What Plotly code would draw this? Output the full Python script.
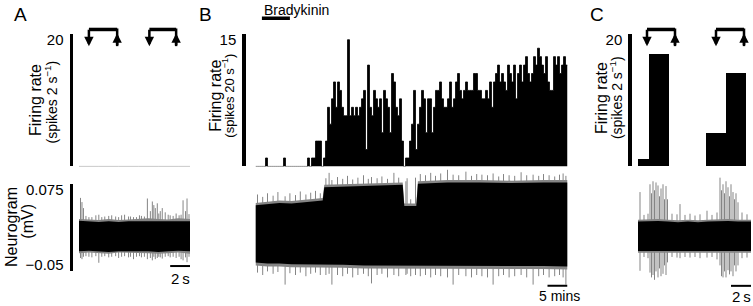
import plotly.graph_objects as go

W, H = 753, 306
FONT = "Liberation Sans, Arial, sans-serif"

# ---------------- data ----------------
# Panel A : firing rate (spikes per 2 s) - silent unit
A_rate_edges = [0, 2, 4, 6, 8, 10, 11.2]
A_rate = [0, 0, 0, 0, 0, 0]
A_stim_on = [1.0, 7.1]
A_stim_off = [3.85, 9.8]
A_len_s = 11.2

# Panel A neurogram (mV): black core envelope + grey edge
A_env_t = [0, 1, 2, 3, 4, 5, 6, 7, 8, 9, 10, 11.2]
A_core_hi = [0.024, 0.023, 0.022, 0.023, 0.022, 0.023, 0.023, 0.024, 0.023, 0.023, 0.024, 0.023]
A_core_lo = [-0.027, -0.026, -0.027, -0.028, -0.027, -0.026, -0.027, -0.027, -0.028, -0.027, -0.026, -0.027]
A_edge_hi = [0.027, 0.026, 0.025, 0.027, 0.025, 0.026, 0.027, 0.028, 0.027, 0.026, 0.028, 0.027]
A_edge_lo = [-0.030, -0.029, -0.030, -0.031, -0.029, -0.029, -0.030, -0.030, -0.031, -0.030, -0.029, -0.031]
A_spk_t = [0.15, 0.3, 0.45, 0.7, 1.0, 1.3, 1.7, 2.0, 2.3, 2.6,
           3.0, 3.3, 3.7, 4.0, 4.3, 4.6, 5.0, 5.2, 5.5, 5.8,
           6.1, 6.3, 6.6, 6.9, 7.2, 7.4, 7.55, 7.7, 7.9, 8.05,
           8.2, 8.4, 8.7, 9.0, 9.2, 9.5, 9.8, 10.1, 10.3, 10.5,
           10.75, 10.9, 11.1]
A_spk_hi = [0.062, 0.055, 0.045, 0.032, 0.030, 0.030, 0.033, 0.034, 0.030, 0.031,
            0.032, 0.033, 0.031, 0.030, 0.033, 0.034, 0.031, 0.031, 0.030, 0.030,
            0.033, 0.032, 0.031, 0.061, 0.040, 0.056, 0.050, 0.045, 0.053, 0.036,
            0.040, 0.045, 0.038, 0.034, 0.033, 0.032, 0.036, 0.033, 0.034, 0.058,
            0.040, 0.061, 0.035]
A_spk_lo = [-0.038, -0.040, -0.036, -0.035, -0.036, -0.037, -0.035, -0.046, -0.036, -0.035,
            -0.037, -0.036, -0.035, -0.038, -0.036, -0.035, -0.037, -0.036, -0.040, -0.036,
            -0.035, -0.037, -0.036, -0.040, -0.038, -0.042, -0.036, -0.040, -0.038, -0.036,
            -0.037, -0.039, -0.036, -0.035, -0.037, -0.036, -0.038, -0.036, -0.040, -0.042,
            -0.037, -0.045, -0.036]

# Panel B : firing rate histogram (0.5-min bins), minutes
B_bin_min = 0.5
B_rate = [0, 0, 0, 0, 0, 1, 0, 0, 0, 0,
          0, 0, 0, 0, 1, 0, 0, 0, 0, 0,
          0, 0, 0, 0, 0, 0, 1, 0, 1, 1,
          3, 3, 3, 0, 1, 3, 7, 5, 8, 10,
          7, 10, 9, 7, 6, 6, 15, 6, 7, 6,
          7, 6, 7, 8, 9, 2, 12, 7, 6, 9,
          8, 7, 8, 4, 9, 8, 7, 4, 11, 10,
          7, 6, 8, 3, 0, 1, 1, 3, 5, 9,
          2, 5, 7, 9, 8, 4, 8, 8, 4, 7,
          9, 9, 10, 8, 7, 7, 8, 10, 7, 8,
          10, 11, 9, 8, 9, 10, 9, 9, 9, 11,
          11, 9, 9, 8, 8, 9, 8, 10, 7, 10,
          11, 12, 10, 11, 10, 9, 12, 11, 10, 12,
          8, 11, 12, 10, 12, 13, 11, 10, 11, 13,
          12, 14, 13, 12, 11, 13, 10, 9, 9, 13,
          12, 13, 11, 12, 13, 12]
B_len_min = 78
brady_on, brady_off = 1.6, 8.6

# Panel B neurogram envelope (mV)
B_env_t = [0, 3, 6, 9, 12, 15, 16.8, 17.2, 22, 27, 32, 36.8, 37.2, 40.2, 40.6, 48, 56, 64, 72, 78]
B_core_hi = [0.050, 0.052, 0.054, 0.053, 0.055, 0.058, 0.058, 0.080, 0.081, 0.082,
             0.083, 0.084, 0.049, 0.049, 0.086, 0.088, 0.088, 0.087, 0.088, 0.088]
B_core_lo = [-0.045, -0.047, -0.047, -0.048, -0.048, -0.048, -0.048, -0.049, -0.049, -0.050,
             -0.050, -0.050, -0.050, -0.050, -0.050, -0.051, -0.051, -0.051, -0.051, -0.052]
B_edge_hi = [0.054, 0.056, 0.058, 0.057, 0.059, 0.062, 0.062, 0.084, 0.085, 0.086,
             0.087, 0.088, 0.053, 0.053, 0.090, 0.092, 0.092, 0.091, 0.092, 0.092]
B_edge_lo = [-0.050, -0.052, -0.052, -0.053, -0.053, -0.053, -0.053, -0.054, -0.054, -0.055,
             -0.055, -0.055, -0.055, -0.055, -0.055, -0.056, -0.056, -0.056, -0.056, -0.057]
B_spk_t = [0.5, 1.8, 3.0, 4.4, 5.6, 7.4, 8.6, 10.0, 11.2, 12.6, 13.8, 15.0, 16.2,
           17.6, 18.4, 19.1, 20.5, 21.8, 23.0, 24.3, 25.6, 27.0, 28.2, 29.0, 30.4, 31.6, 33.0, 34.6, 35.8,
           37.6, 37.9, 38.8, 40.0,
           41.2, 42.5, 43.8, 45.0, 46.3, 48.0, 49.4, 50.8, 52.6, 54.0, 55.3, 56.6, 58.0, 59.4,
           60.8, 62.0, 63.4, 64.8, 66.4, 67.8, 69.4, 70.8, 72.0, 73.4, 74.8, 76.0, 76.9, 77.6]
B_spk_hi = [0.068, 0.064, 0.070, 0.066, 0.072, 0.065, 0.070, 0.067, 0.073, 0.068, 0.071, 0.074, 0.070,
            0.095, 0.104, 0.092, 0.097, 0.094, 0.099, 0.093, 0.096, 0.100, 0.094, 0.097, 0.095, 0.098, 0.094, 0.104, 0.096,
            0.090, 0.095, 0.060, 0.096,
            0.102, 0.100, 0.104, 0.099, 0.103, 0.110, 0.101, 0.100, 0.106, 0.099, 0.102, 0.101, 0.100, 0.103,
            0.098, 0.102, 0.100, 0.099, 0.105, 0.100, 0.101, 0.099, 0.102, 0.100, 0.098, 0.101, 0.103, 0.099]
B_spk_lo = [-0.062, -0.066, -0.060, -0.064, -0.061, -0.082, -0.063, -0.066, -0.062, -0.068, -0.064, -0.062, -0.066,
            -0.066, -0.064, -0.082, -0.066, -0.068, -0.064, -0.070, -0.066, -0.064, -0.068, -0.080, -0.066, -0.064, -0.070, -0.066, -0.068,
            -0.066, -0.064, -0.068, -0.066,
            -0.068, -0.066, -0.070, -0.066, -0.068, -0.070, -0.082, -0.066, -0.068, -0.070, -0.066, -0.068, -0.070, -0.082,
            -0.068, -0.066, -0.070, -0.068, -0.066, -0.070, -0.082, -0.068, -0.066, -0.070, -0.068, -0.066, -0.070, -0.082]

# Panel C : firing rate (spikes per 2 s)
C_bin_start = [-0.9, 1.1, 6.8, 8.8]
C_bin_w = 2.0
C_rate = [1.1, 17.7, 5.2, 14.7]
C_stim_on = [0.9, 7.8]
C_stim_off = [3.7, 10.6]
C_len_s = 11.3

C_env_t = [0, 1, 2, 3, 4, 5, 6, 7, 8, 9, 10, 11.3]
C_core_hi = [0.023, 0.024, 0.024, 0.023, 0.022, 0.023, 0.022, 0.023, 0.024, 0.024, 0.023, 0.023]
C_core_lo = [-0.026, -0.027, -0.027, -0.026, -0.026, -0.027, -0.026, -0.026, -0.027, -0.027, -0.026, -0.026]
C_edge_hi = [0.026, 0.027, 0.027, 0.026, 0.025, 0.026, 0.025, 0.026, 0.027, 0.027, 0.026, 0.026]
C_edge_lo = [-0.029, -0.030, -0.030, -0.029, -0.029, -0.030, -0.029, -0.029, -0.030, -0.030, -0.029, -0.029]
C_spk_t = [0.2, 0.6, 1.0, 1.2, 1.35, 1.5, 1.65, 1.8, 2.0, 2.15,
           2.3, 2.5, 2.65, 2.8, 2.95, 3.4, 3.9, 4.2, 4.7, 5.2,
           5.7, 6.2, 6.9, 7.4, 7.9, 8.2, 8.35, 8.5, 8.65, 8.8,
           9.0, 9.15, 9.3, 9.5, 9.65, 9.8, 10.0, 10.4, 10.9]
C_spk_hi = [0.072, 0.034, 0.036, 0.085, 0.070, 0.090, 0.075, 0.088, 0.083, 0.065,
            0.078, 0.085, 0.060, 0.082, 0.060, 0.036, 0.035, 0.052, 0.034, 0.036,
            0.033, 0.035, 0.041, 0.034, 0.038, 0.096, 0.075, 0.085, 0.070, 0.090,
            0.080, 0.065, 0.085, 0.072, 0.060, 0.070, 0.055, 0.038, 0.035]
C_spk_lo = [-0.059, -0.036, -0.038, -0.062, -0.070, -0.066, -0.074, -0.060, -0.070, -0.055,
            -0.068, -0.064, -0.050, -0.066, -0.045, -0.036, -0.037, -0.038, -0.036, -0.037,
            -0.036, -0.038, -0.037, -0.036, -0.040, -0.050, -0.068, -0.070, -0.060, -0.070,
            -0.058, -0.065, -0.060, -0.068, -0.050, -0.060, -0.050, -0.038, -0.037]

scale_A_s, scale_B_min, scale_C_s = 2, 5, 2

for a, b, c in [(A_spk_t, A_spk_hi, A_spk_lo), (B_spk_t, B_spk_hi, B_spk_lo), (C_spk_t, C_spk_hi, C_spk_lo)]:
    assert len(a) == len(b) == len(c), (len(a), len(b), len(c))
assert len(B_rate) * B_bin_min == B_len_min, len(B_rate)


# ---------------- helpers ----------------
def fx(px):
    return px / W


def fy(py):
    return 1 - py / H


GREY = "#858585"
fig = go.Figure()


def neurogram(t, core_hi, core_lo, edge_hi, edge_lo, st, shi, slo, xa, ya):
    fig.add_trace(go.Scatter(x=t + t[::-1], y=edge_hi + edge_lo[::-1], fill="toself",
                             fillcolor=GREY, line=dict(width=0), mode="lines",
                             xaxis=xa, yaxis=ya, hoverinfo="skip"))
    xs, ys = [], []
    for a, b, c in zip(st, shi, slo):
        xs += [a, a, None]
        ys += [c, b, None]
    fig.add_trace(go.Scatter(x=xs, y=ys, mode="lines", line=dict(color=GREY, width=1),
                             xaxis=xa, yaxis=ya, hoverinfo="skip"))
    fig.add_trace(go.Scatter(x=t + t[::-1], y=core_hi + core_lo[::-1], fill="toself",
                             fillcolor="black", line=dict(width=0), mode="lines",
                             xaxis=xa, yaxis=ya, hoverinfo="skip"))


# Panel A top: empty rate histogram (grey baseline)
fig.add_trace(go.Scatter(x=A_rate_edges, y=A_rate + [A_rate[-1]], mode="lines",
                         line=dict(shape="hv", color="#9a9a9a", width=1), xaxis="x", yaxis="y"))
neurogram(A_env_t, A_core_hi, A_core_lo, A_edge_hi, A_edge_lo, A_spk_t, A_spk_hi, A_spk_lo, "x2", "y2")

# Panel B top: histogram
B_edges = [i * B_bin_min for i in range(len(B_rate) + 1)]
fig.add_trace(go.Scatter(x=B_edges, y=B_rate + [B_rate[-1]], mode="lines",
                         line=dict(shape="hv", color="black", width=0.8),
                         fill="tozeroy", fillcolor="black", xaxis="x3", yaxis="y3"))
neurogram(B_env_t, B_core_hi, B_core_lo, B_edge_hi, B_edge_lo, B_spk_t, B_spk_hi, B_spk_lo, "x4", "y4")

# Panel C top: bars
fig.add_trace(go.Bar(x=C_bin_start, y=C_rate, width=C_bin_w, offset=0,
                     marker=dict(color="black", line=dict(width=0)), xaxis="x5", yaxis="y5"))
neurogram(C_env_t, C_core_hi, C_core_lo, C_edge_hi, C_edge_lo, C_spk_t, C_spk_hi, C_spk_lo, "x6", "y6")

# ---------------- axes ----------------
hidden_x = dict(visible=False, showgrid=False, zeroline=False)
TOP = [fy(166.7), fy(31.7)]
tickfont = dict(family=FONT, size=15, color="black")


def yline(pos):
    return dict(anchor="free", position=fx(pos), showline=True, linewidth=3.5, linecolor="black",
                ticks="", showgrid=False, zeroline=False, tickfont=tickfont, ticklabelstandoff=3,
                fixedrange=True)


fig.update_layout(
    width=W, height=H, margin=dict(l=0, r=0, t=0, b=0),
    paper_bgcolor="white", plot_bgcolor="rgba(0,0,0,0)", showlegend=False,
    font=dict(family=FONT, color="black"), hovermode=False,
    xaxis=dict(domain=[fx(79), fx(190)], range=[0, A_len_s], anchor="y", **hidden_x),
    yaxis=dict(domain=TOP, range=[0, 20.87], tickvals=[20], **yline(70.5)),
    xaxis2=dict(domain=[fx(79), fx(190)], range=[0, A_len_s], anchor="y2", **hidden_x),
    yaxis2=dict(domain=[fy(273), fy(185)], range=[-0.0591, 0.0845], tickvals=[0.075, -0.05],
                ticktext=["0.075", "\u22120.05"], **yline(70.5)),
    xaxis3=dict(domain=[fx(255.5), fx(567.5)], range=[0, B_len_min], anchor="y3", **hidden_x),
    yaxis3=dict(domain=TOP, range=[0, 15.67], tickvals=[15], **yline(243.3)),
    xaxis4=dict(domain=[fx(255.5), fx(567.5)], range=[0, B_len_min], anchor="y4", **hidden_x),
    yaxis4=dict(domain=[fy(300), fy(170)], range=[-0.1028, 0.1093], visible=False),
    xaxis5=dict(domain=[fx(638), fx(751)], range=[0, C_len_s], anchor="y5", **hidden_x),
    yaxis5=dict(domain=TOP, range=[0, 20.87], tickvals=[20], **yline(629.3)),
    xaxis6=dict(domain=[fx(638), fx(751)], range=[0, C_len_s], anchor="y6", **hidden_x),
    yaxis6=dict(domain=[fy(300), fy(170)], range=[-0.1028, 0.1093], visible=False),
    bargap=0,
)

# ---------------- shapes & annotations ----------------
shapes = []
ann = []


def text(x, y, s, size=16, angle=0, xanchor="center", yanchor="middle", xref="paper"):
    ann.append(dict(x=x, y=y, xref=xref, yref="paper", text=s, showarrow=False, textangle=angle,
                    xanchor=xanchor, yanchor=yanchor, font=dict(family=FONT, size=size, color="black")))


def bracket(ons, offs, xref):
    for on, off in zip(ons, offs):
        shapes.append(dict(type="line", xref=xref, yref="paper", x0=on, x1=off, y0=fy(27), y1=fy(27),
                           line=dict(color="black", width=3.5)))
        shapes.append(dict(type="line", xref=xref, yref="paper", x0=off, x1=off, y0=fy(26), y1=fy(44),
                           line=dict(color="black", width=2.5)))
        ann.append(dict(x=on, y=fy(44), xref=xref, yref="paper", text="", showarrow=True,
                        ax=0, ay=-18, arrowhead=2, arrowsize=0.75, arrowwidth=2.5, arrowcolor="black"))
        ann.append(dict(x=off, y=fy(31), xref=xref, yref="paper", text="", showarrow=True,
                        ax=0, ay=13, arrowhead=2, arrowsize=0.75, arrowwidth=2.5, arrowcolor="black"))


bracket(A_stim_on, A_stim_off, "x")
bracket(C_stim_on, C_stim_off, "x5")

# Bradykinin bar
shapes.append(dict(type="line", xref="x3", yref="paper", x0=brady_on, x1=brady_off,
                   y0=fy(15.5), y1=fy(15.5), line=dict(color="black", width=3.5)))
text(fx(262), fy(7.5), "Bradykinin", size=14, xanchor="left")

# scale bars
shapes.append(dict(type="line", xref="x2", yref="paper", x0=A_len_s - scale_A_s, x1=A_len_s,
                   y0=fy(268.3), y1=fy(268.3), line=dict(color="black", width=2)))
text(A_len_s - scale_A_s / 2, fy(281), "2\u2009s", size=15, xref="x2")
shapes.append(dict(type="line", xref="x4", yref="paper", x0=B_len_min - scale_B_min, x1=B_len_min,
                   y0=fy(288.5), y1=fy(288.5), line=dict(color="black", width=2)))
text(B_len_min - scale_B_min / 2 + 0.5, fy(298.5), "5 mins", size=14, xref="x4")
shapes.append(dict(type="line", xref="x6", yref="paper", x0=C_len_s - scale_C_s, x1=C_len_s,
                   y0=fy(288.5), y1=fy(288.5), line=dict(color="black", width=2)))
text(C_len_s - scale_C_s / 2, fy(299.5), "2\u2009s", size=15, xref="x6")

# panel letters
text(fx(20), fy(12), "A", size=19)
text(fx(206), fy(12), "B", size=19)
text(fx(597), fy(12), "C", size=19)

# axis titles
text(fx(35), fy(99), "Firing rate", angle=-90)
text(fx(51.5), fy(101), "(spikes 2 s<sup>\u22121</sup>)", size=14, angle=-90)
text(fx(11.5), fy(229), "Neurogram", angle=-90)
text(fx(28), fy(223), "(mV)", angle=-90)
text(fx(215.5), fy(95), "Firing rate", angle=-90)
text(fx(228.5), fy(95), "(spikes 20 s<sup>\u22121</sup>)", size=13, angle=-90)
text(fx(601), fy(97), "Firing rate", angle=-90)
text(fx(616), fy(97), "(spikes 2 s<sup>\u22121</sup>)", size=14, angle=-90)

fig.update_layout(shapes=shapes, annotations=ann)
fig.write_html("out.html", config={"displayModeBar": False, "staticPlot": True},
               post_script="document.body.style.margin='0';")
